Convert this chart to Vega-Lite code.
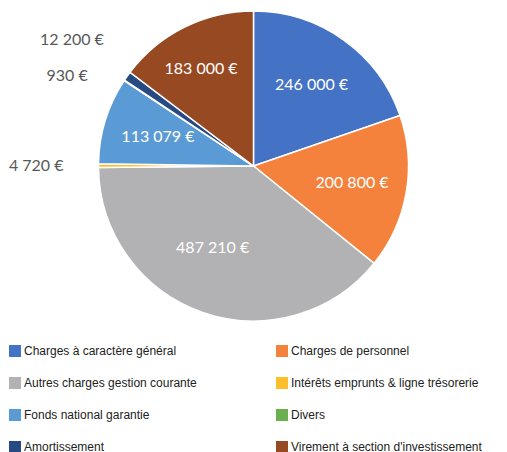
{
  "$schema": "https://vega.github.io/schema/vega-lite/v6.json",
  "width": 507,
  "height": 332,
  "autosize": {"type": "none"},
  "padding": {"left": 0, "top": 0, "right": 0, "bottom": 120},
  "background": "white",
  "data": {
    "values": [
      {"idx": 1, "category": "Charges à caractère général", "value": 246000, "label": "246 000 €"},
      {"idx": 2, "category": "Charges de personnel", "value": 200800, "label": "200 800 €"},
      {"idx": 3, "category": "Autres charges gestion courante", "value": 487210, "label": "487 210 €"},
      {"idx": 4, "category": "Intérêts emprunts & ligne trésorerie", "value": 4720, "label": "4 720 €"},
      {"idx": 5, "category": "Fonds national garantie", "value": 113079, "label": "113 079 €"},
      {"idx": 6, "category": "Divers", "value": 930, "label": "930 €"},
      {"idx": 7, "category": "Amortissement", "value": 12200, "label": "12 200 €"},
      {"idx": 8, "category": "Virement à section d'investissement", "value": 183000, "label": "183 000 €"}
    ]
  },
  "encoding": {
    "theta": {"field": "value", "type": "quantitative", "stack": true},
    "order": {"field": "idx", "type": "quantitative"}
  },
  "layer": [
    {
      "mark": {"type": "arc", "outerRadius": 155, "stroke": "white", "strokeWidth": 1.5},
      "encoding": {
        "color": {
          "field": "category",
          "type": "nominal",
          "scale": {
            "domain": ["Charges à caractère général", "Autres charges gestion courante", "Fonds national garantie", "Amortissement", "Charges de personnel", "Intérêts emprunts & ligne trésorerie", "Divers", "Virement à section d'investissement"],
            "range": ["#4472C4", "#B2B2B5", "#5B9BD5", "#284A82", "#F4823C", "#FDBE2C", "#6AAF50", "#974A22"]
          },
          "legend": {
            "title": null,
            "orient": "none",
            "legendX": 9,
            "legendY": 345,
            "columns": 2,
            "columnPadding": 79,
            "rowPadding": 20,
            "symbolType": "square",
            "symbolSize": 144,
            "symbolStrokeWidth": 0,
            "labelFont": "Liberation Sans",
            "labelFontSize": 12,
            "labelColor": "#222222",
            "labelOffset": 3,
            "labelLimit": 300,
            "padding": 0
          }
        }
      }
    },
    {
      "mark": {"type": "text", "radius": 100, "font": "Lato", "fontSize": 16, "fill": "white"},
      "encoding": {"text": {"condition": {"test": "datum.idx == 1 || datum.idx == 2 || datum.idx == 5", "field": "label"}, "value": ""}}
    },
    {
      "mark": {"type": "text", "radius": 100, "dx": -8, "dy": -12, "font": "Lato", "fontSize": 16, "fill": "white"},
      "encoding": {"text": {"condition": {"test": "datum.idx == 3", "field": "label"}, "value": ""}}
    },
    {
      "mark": {"type": "text", "radius": 100, "dx": -8, "dy": -7, "font": "Lato", "fontSize": 16, "fill": "white"},
      "encoding": {"text": {"condition": {"test": "datum.idx == 8", "field": "label"}, "value": ""}}
    },
    {
      "mark": {"type": "text", "radius": 190, "align": "right", "baseline": "middle", "font": "Lato", "fontSize": 16, "fill": "#595959"},
      "encoding": {"text": {"condition": {"test": "datum.idx == 4", "field": "label"}, "value": ""}}
    },
    {
      "mark": {"type": "text", "radius": 163, "dx": -30, "align": "right", "baseline": "middle", "font": "Lato", "fontSize": 16, "fill": "#595959"},
      "encoding": {"text": {"condition": {"test": "datum.idx == 6", "field": "label"}, "value": ""}}
    },
    {
      "mark": {"type": "text", "radius": 180, "dx": -3, "dy": -22, "align": "right", "baseline": "middle", "font": "Lato", "fontSize": 16, "fill": "#595959"},
      "encoding": {"text": {"condition": {"test": "datum.idx == 7", "field": "label"}, "value": ""}}
    }
  ]
}
